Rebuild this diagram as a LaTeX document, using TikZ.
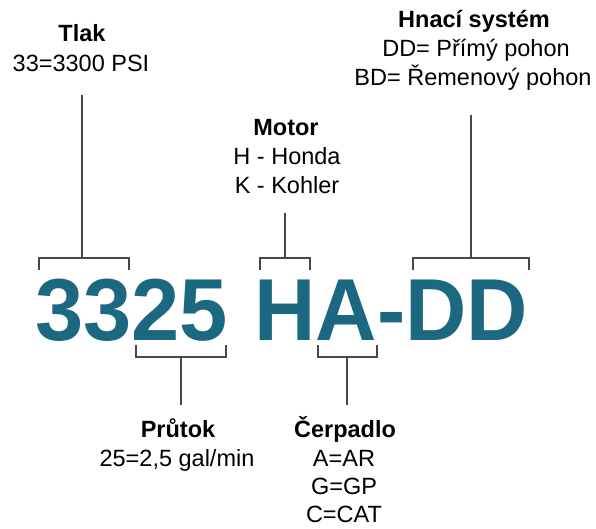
\documentclass[tikz,border=0pt]{standalone}
\usepackage{fontspec}
\setmainfont{Liberation Sans}
\definecolor{teal}{RGB}{28,104,128}
\definecolor{linegray}{RGB}{72,72,72}
\begin{document}
\begin{tikzpicture}[x=1pt,y=-1pt,
  lbl/.style={anchor=base,inner sep=0pt,font=\fontsize{23.5}{28}\selectfont},
  hdr/.style={lbl,font=\fontsize{23.5}{28}\selectfont\bfseries},
  conn/.style={draw=linegray,line width=2pt},
  big/.style={anchor=base west,inner sep=0pt,text=teal,font=\fontsize{88}{90}\selectfont\bfseries}]
\useasboundingbox (0,0) rectangle (596,528);
% code
\node[big] (code) at (35,340) {\scalebox{0.985}[1]{3325}\hspace{2pt} \scalebox{0.965}[1]{HA-DD}};
% top labels
\node[hdr] (tlak) at (82,41) {Tlak};
\node[lbl] (tlak1) at (81,71) {33=3300 PSI};
\node[hdr] (motor) at (286,135) {Motor};
\node[lbl] (motor1) at (287,164) {H - Honda};
\node[lbl] (motor2) at (287,193) {K - Kohler};
\node[hdr] (hnaci) at (474,27) {Hnací systém};
\node[lbl] (hnaci1) at (476,56) {DD= Přímý pohon};
\node[lbl] (hnaci2) at (473,85) {BD= Řemenový pohon};
% bottom labels
\node[hdr] (prutok) at (178,437) {Průtok};
\node[lbl] (prutok1) at (177,466) {25=2,5 gal/min};
\node[hdr] (cerp) at (345,437) {Čerpadlo};
\node[lbl] (cerp1) at (344,466) {A=AR};
\node[lbl] (cerp2) at (344,494) {G=GP};
\node[lbl] (cerp3) at (344,522) {C=CAT};
% connector end points
\coordinate (tlakTop) at (82,95);
\coordinate (tlakMid) at (82,258);
\coordinate (motorTop) at (285,213);
\coordinate (motorMid) at (285,258);
\coordinate (hnaciTop) at (471,115);
\coordinate (hnaciMid) at (471,258);
\coordinate (prutokMid) at (181,357);
\coordinate (prutokBot) at (181,405);
\coordinate (cerpMid) at (347,357);
\coordinate (cerpBot) at (347,405);
% top brackets
\draw[conn] (tlakTop) -- (tlakMid);
\draw[conn] (39,270) -- (39,258) -- (129,258) -- (129,270);
\draw[conn] (motorTop) -- (motorMid);
\draw[conn] (260,270) -- (260,258) -- (310,258) -- (310,270);
\draw[conn] (hnaciTop) -- (hnaciMid);
\draw[conn] (413,270) -- (413,258) -- (529,258) -- (529,270);
% bottom brackets
\draw[conn] (prutokMid) -- (prutokBot);
\draw[conn] (136,345) -- (136,357) -- (226,357) -- (226,345);
\draw[conn] (cerpMid) -- (cerpBot);
\draw[conn] (318,345) -- (318,357) -- (377,357) -- (377,345);
\end{tikzpicture}
\end{document}
